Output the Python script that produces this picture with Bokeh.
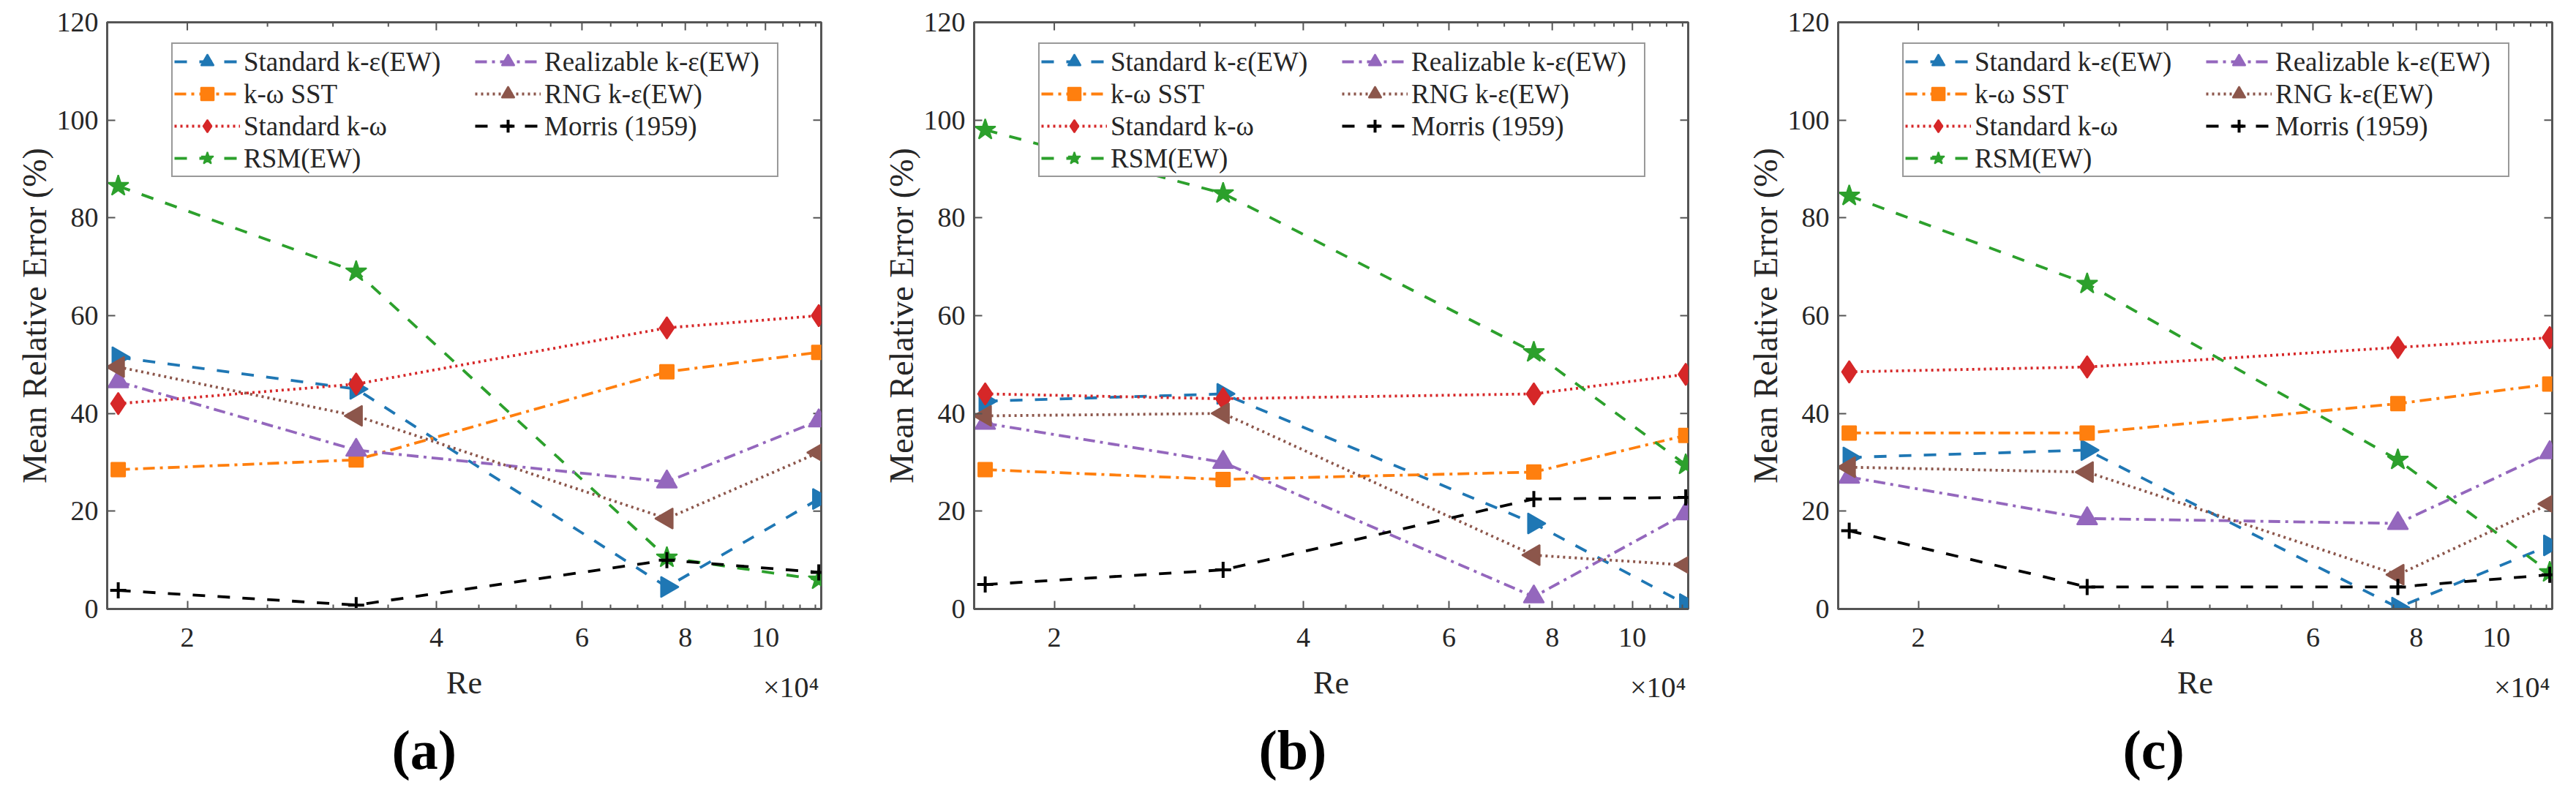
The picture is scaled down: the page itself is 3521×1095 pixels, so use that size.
import math
from bokeh.plotting import figure
from bokeh.models import Range1d, FixedTicker, Legend, LegendItem, Title
from bokeh.layouts import row
from bokeh.embed import file_html
from bokeh.resources import INLINE

# ---------------- data ----------------
re_values = [16500, 32000, 76000, 116000]

x_min, x_max = 1.6e4, 1.168e5
y_min, y_max = 0, 120
x_major_ticks = [20000, 40000, 60000, 80000, 100000]
x_major_labels = ["2", "4", "6", "8", "10"]
x_minor_ticks = [25000, 30000, 35000, 45000, 50000, 55000, 65000, 70000,
                 75000, 85000, 90000, 95000, 105000, 110000, 115000]
y_ticks = [0, 20, 40, 60, 80, 100, 120]
x_multiplier = "×10⁴"

panel_labels = ["(a)", "(b)", "(c)"]
series_names = ["Standard k-ε(EW)", "k-ω SST", "Standard k-ω", "RSM(EW)",
                "Realizable k-ε(EW)", "RNG k-ε(EW)", "Morris (1959)"]

# panel (a)
std_ke_a = [51.5, 45.0, 4.5, 22.5]
sst_a = [28.5, 30.5, 48.5, 52.5]
std_kw_a = [42.0, 46.0, 57.5, 60.0]
rsm_a = [86.5, 69.0, 10.5, 6.0]
real_ke_a = [46.5, 32.5, 26.0, 38.5]
rng_a = [49.5, 39.5, 18.5, 32.0]
morris_a = [3.8, 0.8, 10.0, 7.5]

# panel (b)
std_ke_b = [42.5, 44.0, 17.5, 1.0]
sst_b = [28.5, 26.5, 28.0, 35.5]
std_kw_b = [44.0, 43.0, 44.0, 48.0]
rsm_b = [98.0, 85.0, 52.5, 29.5]
real_ke_b = [38.0, 30.0, 2.5, 19.5]
rng_b = [39.5, 40.0, 11.0, 9.0]
morris_b = [5.0, 8.0, 22.5, 22.8]

# panel (c)
std_ke_c = [31.0, 32.5, 0.3, 13.0]
sst_c = [36.0, 36.0, 42.0, 46.0]
std_kw_c = [48.5, 49.5, 53.5, 55.5]
rsm_c = [84.5, 66.5, 30.5, 7.5]
real_ke_c = [27.0, 18.5, 17.5, 32.0]
rng_c = [29.0, 28.0, 7.0, 21.5]
morris_c = [16.0, 4.5, 4.5, 7.0]

panel_data = [
    [std_ke_a, sst_a, std_kw_a, rsm_a, real_ke_a, rng_a, morris_a],
    [std_ke_b, sst_b, std_kw_b, rsm_b, real_ke_b, rng_b, morris_b],
    [std_ke_c, sst_c, std_kw_c, rsm_c, real_ke_c, rng_c, morris_c],
]

# ---------------- styles ----------------
DASH = "17 17"
DASHDOT = "16 7 4 7"
DOT = "3 5"
styles = [
    dict(color="#1f77b4", dash=DASH, marker="triangle", angle=-math.pi / 2, size=28),
    dict(color="#ff7f0e", dash=DASHDOT, marker="square", angle=0.0, size=19),
    dict(color="#d62728", dash=DOT, marker="diamond", angle=0.0, size=30),
    dict(color="#2ca02c", dash=DASH, marker="star", angle=0.0, size=30),
    dict(color="#9467bd", dash=DASHDOT, marker="triangle", angle=0.0, size=28),
    dict(color="#8c564b", dash=DOT, marker="triangle", angle=math.pi / 2, size=28),
    dict(color="#000000", dash=DASH, marker="cross", angle=0.0, size=22),
]

FONT = "Liberation Serif"
TEXT_COLOR = "#262626"
AXIS_COLOR = "#555555"

FRAME_W = 976
FRAME_H = 802
BORDER_L = 146
BORDER_T = 30
FIG_H = 1084
fig_widths = [1185, 1181, 1139]
LEG_TOP_GAP = 32
LEG_H = 180


def style_axis(ax, minor):
    ax.axis_line_color = AXIS_COLOR
    ax.axis_line_width = 3
    ax.major_tick_line_color = AXIS_COLOR
    ax.minor_tick_line_color = AXIS_COLOR
    ax.major_tick_line_width = 2
    ax.minor_tick_line_width = 2
    ax.major_tick_in = 11
    ax.major_tick_out = 0
    ax.minor_tick_in = 6 if minor else 0
    ax.minor_tick_out = 0
    ax.major_label_text_font = FONT
    ax.major_label_text_color = TEXT_COLOR
    ax.major_label_text_font_size = "38px"
    ax.axis_label_text_font = FONT
    ax.axis_label_text_color = TEXT_COLOR
    ax.axis_label_text_font_style = "normal"


def make_panel(k):
    w = fig_widths[k]
    p = figure(width=w, height=FIG_H, x_axis_type="log",
               x_range=Range1d(x_min, x_max), y_range=Range1d(y_min, y_max),
               output_backend="svg", toolbar_location=None,
               min_border_left=BORDER_L, min_border_right=w - BORDER_L - FRAME_W,
               min_border_top=BORDER_T, min_border_bottom=FIG_H - BORDER_T - FRAME_H)
    p.grid.visible = False
    p.outline_line_color = AXIS_COLOR
    p.outline_line_width = 3
    p.background_fill_color = "white"

    xb = p.xaxis[0]
    xb.ticker = FixedTicker(ticks=x_major_ticks, minor_ticks=x_minor_ticks)
    xb.major_label_overrides = {t: s for t, s in zip(x_major_ticks, x_major_labels)}
    xb.axis_label = "Re"
    style_axis(xb, True)
    xb.axis_label_text_font_size = "44px"
    xb.major_label_standoff = 26
    xb.axis_label_standoff = 22

    yl = p.yaxis[0]
    yl.ticker = FixedTicker(ticks=y_ticks, minor_ticks=[])
    yl.axis_label = "Mean Relative Error (%)"
    style_axis(yl, False)
    yl.axis_label_text_font_size = "46px"
    yl.major_label_standoff = 12
    yl.axis_label_standoff = 2

    # mirrored ticks on the top and right edges of the box
    p.ray(x=x_major_ticks, y=[y_max] * len(x_major_ticks), length=11, length_units="screen",
          angle=-math.pi / 2, line_color=AXIS_COLOR, line_width=2)
    p.ray(x=x_minor_ticks, y=[y_max] * len(x_minor_ticks), length=6, length_units="screen",
          angle=-math.pi / 2, line_color=AXIS_COLOR, line_width=2)
    p.ray(x=[x_max] * len(y_ticks), y=y_ticks, length=11, length_units="screen",
          angle=math.pi, line_color=AXIS_COLOR, line_width=2)

    items = []
    for name, ys, st in zip(series_names, panel_data[k], styles):
        ln = p.line(re_values, ys, line_color=st["color"], line_width=3.8,
                    line_dash=st["dash"])
        sc = p.scatter(re_values, ys, marker=st["marker"], size=st["size"],
                       angle=st["angle"], fill_color=st["color"],
                       line_color=st["color"], line_width=2 if st["marker"] != "cross" else 4)
        items.append(LegendItem(label=name, renderers=[ln, sc]))

    legend = Legend(items=items, location=(88, FRAME_H - LEG_TOP_GAP - LEG_H))
    legend.orientation = "vertical"
    legend.ncols = 2
    legend.glyph_width = 90
    legend.glyph_height = 44
    legend.label_height = 44
    legend.label_width = 316
    legend.label_standoff = 5
    legend.padding = 2
    legend.spacing = 0
    legend.margin = 0
    legend.border_line_color = "#333333"
    legend.border_line_width = 2
    legend.background_fill_color = "white"
    legend.background_fill_alpha = 1.0
    legend.label_text_font = FONT
    legend.label_text_font_size = "37px"
    legend.label_text_line_height = 1.0
    legend.label_text_color = TEXT_COLOR
    p.add_layout(legend)

    # "×10⁴" multiplier, pulled up beside the "Re" label
    p.add_layout(Title(text=x_multiplier + "\n\n", align="right", offset=3,
                       vertical_align="top", standoff=-88,
                       text_font=FONT, text_font_style="normal", text_font_size="40px",
                       text_line_height=1.2, text_color=TEXT_COLOR), "below")
    # panel caption
    p.add_layout(Title(text=panel_labels[k], align="left", offset=389,
                       vertical_align="top", standoff=-90,
                       text_font=FONT, text_font_style="bold", text_font_size="76px",
                       text_color="black"), "below")
    return p


panels = [make_panel(k) for k in range(3)]
layout = row(*panels)
open("out.html", "w").write(file_html(layout, INLINE))
